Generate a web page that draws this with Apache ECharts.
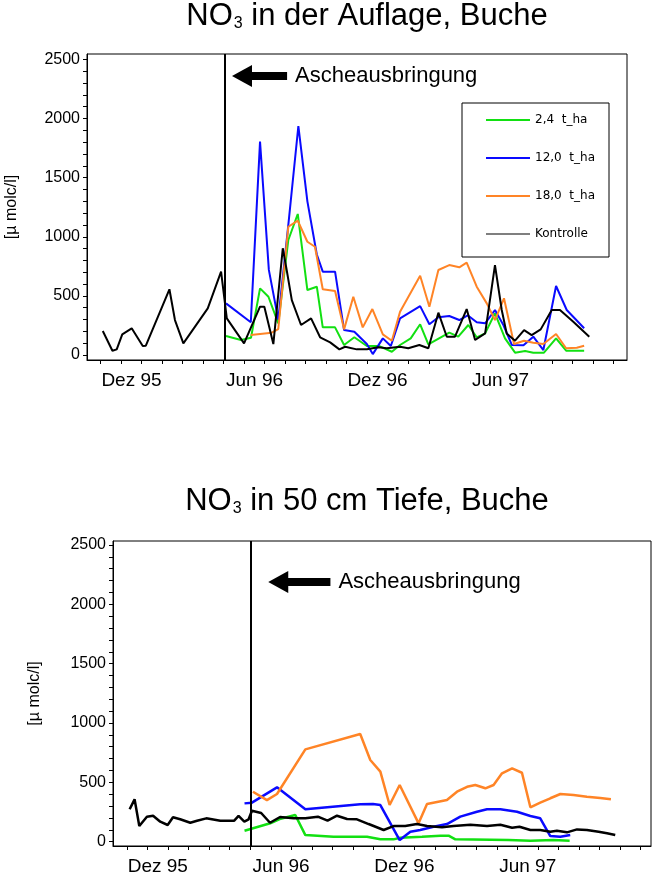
<!DOCTYPE html>
<html>
<head>
<meta charset="utf-8">
<script src="https://cdn.jsdelivr.net/npm/echarts@6/dist/echarts.min.js"></script>
<style>
  html, body { margin: 0; padding: 0; background: #fff; }
  #chart { width: 652px; height: 873px; }
</style>
</head>
<body>
<div id="chart"></div>
<script>
// x-Werte: Monate, gezaehlt ab Jan 1995 = 0 (Nov 95 = 10, Dez 95 = 11, Jun 96 = 17 ...)
var seriesNames = ['2,4  t_ha', '12,0  t_ha', '18,0  t_ha', 'Kontrolle'];
var seriesColors = ['#12e012', '#0a0aff', '#ff8426', '#000000'];

var monthLabels = ['Dez 95', 'Jun 96', 'Dez 96', 'Jun 97'];
var monthLabelPos = [11.5, 17.5, 23.5, 29.5];   // Monatsmitte
var yLabels = [0, 500, 1000, 1500, 2000, 2500];

var ascheMonat = 16.03;   // Zeitpunkt der Ascheausbringung

// --- NO3 in der Auflage ---
var auflage24 = [[16.11,161],[16.84,127],[17.33,146],[17.77,564],[18.18,493],[18.66,268],[19.15,973],[19.61,1193],[20.08,550],[20.54,578],[20.83,234],[21.43,234],[21.87,85],[22.37,150],[22.98,76],[23.59,76],[24.2,28],[24.6,85],[25.12,141],[25.58,260],[25.98,90],[27.0,189],[27.44,155],[27.93,254],[28.34,150],[28.75,183],[29.23,353],[29.72,141],[30.21,20],[30.7,34],[31.1,20],[31.62,20],[32.21,141],[32.7,37],[33.58,37]];
var auflage120 = [[16.11,437],[17.32,277],[17.77,1805],[18.2,720],[18.66,300],[19.15,1100],[19.64,1937],[20.08,1300],[20.54,850],[20.83,705],[21.43,705],[21.87,211],[22.37,197],[22.98,93],[23.27,8],[23.76,141],[24.15,76],[24.6,310],[25.58,414],[26.03,260],[26.47,319],[27.0,330],[27.49,296],[27.9,336],[28.34,277],[28.75,268],[29.23,381],[29.64,254],[30.05,85],[30.62,82],[31.1,155],[31.59,42],[32.21,584],[32.73,381],[33.58,226]];
var auflage180 = [[17.32,169],[18.34,189],[18.66,220],[19.15,1085],[19.61,1136],[20.08,958],[20.45,916],[20.83,556],[21.43,541],[21.87,217],[22.32,493],[22.78,234],[23.25,389],[23.76,175],[24.2,121],[24.6,366],[25.58,671],[26.03,409],[26.47,719],[27.0,761],[27.49,742],[27.85,781],[28.34,578],[28.83,437],[29.23,296],[29.67,480],[30.16,93],[30.65,121],[31.1,104],[31.59,93],[32.21,178],[32.7,57],[33.22,62],[33.58,79]];
var auflageKontrolle = [[10.1,203],[10.57,36],[10.78,48],[11.05,175],[11.51,226],[12.05,76],[12.2,79],[13.35,556],[13.62,296],[14.03,99],[15.22,395],[15.87,705],[16.15,310],[16.99,99],[17.77,409],[17.98,409],[18.42,93],[18.88,903],[19.07,719],[19.32,465],[19.77,254],[20.26,310],[20.7,150],[21.19,107],[21.64,48],[21.92,70],[22.49,48],[22.98,48],[23.54,65],[23.95,57],[24.6,70],[25.0,57],[25.54,85],[25.98,57],[26.47,358],[26.88,155],[27.28,155],[27.85,389],[28.26,127],[28.75,183],[29.23,761],[29.56,381],[29.8,183],[30.21,121],[30.65,211],[31.02,169],[31.46,217],[32.0,381],[32.4,381],[33.05,282],[33.83,155]];

// --- NO3 in 50 cm Tiefe ---
var tiefe24 = [[15.72,93],[16.97,155],[17.43,191],[18.19,225],[18.68,56],[20.05,42],[21.68,42],[22.33,20],[22.97,20],[23.3,34],[24.36,42],[25.25,51],[25.65,51],[25.98,20],[28.57,14],[29.63,8],[30.75,14],[31.54,8]];
var tiefe120 = [[15.72,323],[16.08,329],[17.3,458],[18.68,273],[21.35,315],[21.97,318],[22.33,309],[23.27,14],[23.79,84],[24.27,99],[24.92,126],[25.57,149],[26.22,211],[27.03,253],[27.52,273],[28.17,273],[28.98,253],[29.63,217],[30.11,197],[30.6,48],[31.09,42],[31.57,56]];
var tiefe180 = [[16.13,421],[16.81,351],[17.3,402],[18.68,778],[21.35,907],[21.84,688],[22.33,590],[22.78,309],[23.27,478],[24.19,155],[24.6,318],[25.33,343],[25.57,351],[26.06,421],[26.55,463],[26.95,478],[27.44,450],[27.84,478],[28.25,576],[28.74,618],[29.22,581],[29.63,290],[30.11,329],[30.6,366],[31.09,402],[31.73,393],[32.38,379],[33.03,368],[33.55,357]];
var tiefeKontrolle = [[10.13,273],[10.37,357],[10.6,132],[10.97,211],[11.27,219],[11.62,169],[11.98,141],[12.24,206],[12.59,189],[13.08,160],[13.41,177],[13.86,197],[14.54,177],[15.22,177],[15.43,217],[15.71,169],[15.92,189],[16.08,261],[16.53,242],[16.96,160],[17.45,208],[18.11,197],[18.68,197],[19.29,211],[19.76,177],[20.22,219],[20.71,191],[21.19,189],[21.76,149],[22.49,99],[22.97,132],[23.54,132],[24.11,149],[24.6,132],[25.33,121],[25.89,132],[26.71,143],[27.52,132],[28.17,143],[28.74,118],[29.1,126],[29.63,99],[30.11,99],[30.6,84],[30.92,93],[31.41,79],[31.9,104],[32.38,99],[32.95,84],[33.36,71],[33.76,56]];

// Pfeil "Ascheausbringung" (Schaftende, Pfeilkopfmitte, Hoehe)
var pfeilOben = { tail: 19.09, head: 16.89, y: 2360 };
var pfeilUnten = { tail: 19.9, head: 17.36, y: 2188 };

var monthTicks = [];
for (var m = 10; m <= 35; m++) monthTicks.push(m);
var yTicks = [];
for (var v = 0; v <= 2500; v += 100) yTicks.push(v);

var FONT = 'Liberation Sans';

function xAxisFor(grid, min, max) {
    return {
        type: 'value', gridIndex: grid, min: min, max: max,
        axisLine: { show: true, onZero: false, lineStyle: { color: '#000', width: 1 } },
        axisTick: { show: true, length: 4, customValues: monthTicks, lineStyle: { color: '#000' } },
        axisLabel: {
            customValues: monthLabelPos, margin: 11, color: '#000', fontFamily: FONT, fontSize: 19,
            formatter: function (val) {
                var i = monthLabelPos.indexOf(val);
                return i >= 0 ? monthLabels[i] : '';
            }
        },
        splitLine: { show: false }
    };
}

function yAxisFor(grid, min, max, gap) {
    return {
        type: 'value', gridIndex: grid, min: min, max: max,
        name: '[\u00b5 molc/l]', nameLocation: 'middle', nameGap: gap,
        nameTextStyle: { color: '#000', fontFamily: FONT, fontSize: 16 },
        axisLine: { show: true, onZero: false, lineStyle: { color: '#000', width: 1 } },
        axisTick: { show: true, length: 4, customValues: yTicks, lineStyle: { color: '#000' } },
        axisLabel: {
            customValues: yLabels, margin: 7, color: '#000', fontFamily: FONT, fontSize: 16,
            formatter: function (val) { return String(val); }
        },
        splitLine: { show: false }
    };
}

function marks(pfeil) {
    return {
        silent: true, animation: false, symbol: ['none', 'none'],
        lineStyle: { color: '#000', type: 'solid', width: 2 },
        label: { show: false },
        data: [
            { xAxis: ascheMonat },
            [
                { coord: [pfeil.tail, pfeil.y], symbol: 'none',
                  lineStyle: { width: 8, color: '#000', type: 'solid' },
                  label: { show: true, position: 'start', distance: 8, formatter: 'Ascheausbringung',
                           color: '#000', fontFamily: FONT, fontSize: 22 } },
                { coord: [pfeil.head, pfeil.y], symbol: 'triangle', symbolSize: [22, 20] }
            ]
        ]
    };
}

function lineSeries(idx, data, grid, width, extra) {
    var s = {
        name: seriesNames[idx], type: 'line', data: data,
        xAxisIndex: grid, yAxisIndex: grid,
        symbol: 'none', silent: true, animation: false,
        lineStyle: { color: seriesColors[idx], width: width },
        itemStyle: { color: seriesColors[idx] }
    };
    if (extra) s.markLine = extra;
    return s;
}

function titleFor(rest, top) {
    return {
        text: '{a|NO}{b|3}{a|' + rest + '}',
        left: 367, top: top, textAlign: 'center', padding: 0,
        textStyle: {
            rich: {
                a: { fontFamily: FONT, fontSize: 31, fontWeight: 'normal', color: '#000', lineHeight: 32 },
                b: { fontFamily: FONT, fontSize: 16, fontWeight: 'normal', color: '#000', lineHeight: 32,
                     verticalAlign: 'bottom', padding: [0, 0, 0, 1] }
            }
        }
    };
}

var lineIcon = 'path://M0,0H44V2H0Z';
var thinIcon = 'path://M0,0H44V1H0Z';

var chart = echarts.init(document.getElementById('chart'), null, { renderer: 'canvas' });
chart.setOption({
    backgroundColor: '#fff',
    animation: false,
    title: [titleFor(' in der Auflage, Buche', 0), titleFor(' in 50 cm Tiefe, Buche', 485)],
    legend: {
        data: [
            { name: seriesNames[0], icon: lineIcon },
            { name: seriesNames[1], icon: lineIcon },
            { name: seriesNames[2], icon: lineIcon },
            { name: seriesNames[3], icon: thinIcon }
        ],
        orient: 'vertical', left: 462, top: 103,
        itemWidth: 44, itemHeight: 14, itemGap: 24, itemTextGap: 7,
        padding: [10, 14, 16, 24],
        borderColor: '#000', borderWidth: 1, selectedMode: false,
        textStyle: { fontFamily: 'DejaVu Sans', fontSize: 12, color: '#000', lineHeight: 14 }
    },
    grid: [
        { left: 87, top: 54, width: 540, height: 306, show: true, borderColor: '#000', borderWidth: 1, outerBoundsMode: 'none' },
        { left: 113, top: 541, width: 538, height: 305, show: true, borderColor: '#000', borderWidth: 1, outerBoundsMode: 'none' }
    ],
    xAxis: [xAxisFor(0, 9.33, 35.67), xAxisFor(1, 9.32, 35.5)],
    yAxis: [yAxisFor(0, -42, 2546, 67), yAxisFor(1, -36, 2533, 70)],
    series: [
        lineSeries(0, auflage24, 0, 2),
        lineSeries(1, auflage120, 0, 2),
        lineSeries(2, auflage180, 0, 2),
        lineSeries(3, auflageKontrolle, 0, 2, marks(pfeilOben)),
        lineSeries(0, tiefe24, 1, 2.5),
        lineSeries(1, tiefe120, 1, 2.5),
        lineSeries(2, tiefe180, 1, 2.5),
        lineSeries(3, tiefeKontrolle, 1, 2.5, marks(pfeilUnten))
    ]
});
</script>
</body>
</html>
